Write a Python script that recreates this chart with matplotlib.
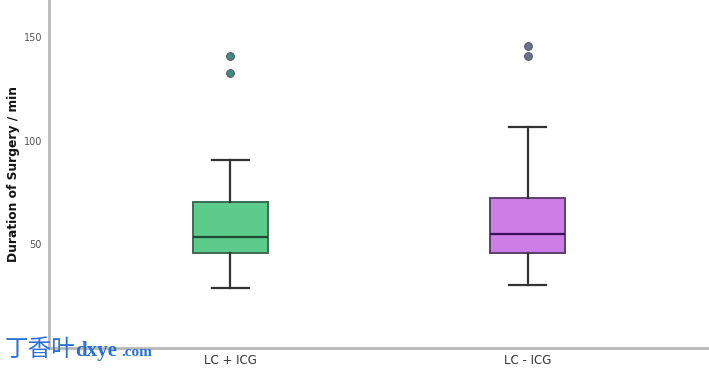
import matplotlib
matplotlib.use("Agg")
import matplotlib.pyplot as plt

categories = ["LC + ICG", "LC - ICG"]
q1 = [45.7, 45.7]
median = [53.8, 54.8]
q3 = [70.5, 72.4]
whisker_low = [28.8, 30.4]
whisker_high = [90.9, 106.7]
outliers = [[132.8, 141.0], [141.0, 146.0]]
yticks = [50, 100, 150]

box_colors = ["#5CCB8C", "#CD7EE6"]
edge_colors = ["#3E6A52", "#5E3F6C"]
median_colors = ["#1E4A30", "#3C0E55"]
flier_colors = ["#3E8E7E", "#6E7090"]

fig = plt.figure(figsize=(7.09, 3.68), dpi=100)
ax = fig.add_axes([49/709, 20/368, 1 - 49/709, 1 - 20/368])

positions = list(range(len(categories)))
for i in positions:
    stats = [dict(med=median[i], q1=q1[i], q3=q3[i], whislo=whisker_low[i],
                  whishi=whisker_high[i], fliers=outliers[i], label=categories[i])]
    ax.bxp(stats, positions=[i], widths=0.25, patch_artist=True, showfliers=True,
           boxprops=dict(facecolor=box_colors[i], edgecolor=edge_colors[i], linewidth=1.4),
           medianprops=dict(color=median_colors[i], linewidth=1.6),
           whiskerprops=dict(color="#333333", linewidth=1.6),
           capprops=dict(color="#333333", linewidth=1.6),
           capwidths=0.125,
           flierprops=dict(marker="o", markersize=5.5, markerfacecolor=flier_colors[i],
                           markeredgecolor="#555566", markeredgewidth=0.8))

ax.set_xlim(-0.61, 1.61)
ax.set_ylim(0, 168)
ax.set_xticks(positions)
ax.set_xticklabels(categories, fontsize=8.5, color="#333333")
ax.set_yticks(yticks)
ax.set_yticklabels([str(t) for t in yticks], fontsize=7, color="#555555")
ax.tick_params(axis="both", length=0)
ax.tick_params(axis="y", pad=5)
ax.tick_params(axis="x", pad=4)
ax.set_ylabel("Duration of Surgery / min", fontsize=8.8, fontweight="bold", color="#111111")
ax.yaxis.set_label_coords(-29/660, 0.5)
for s in ["top", "right"]:
    ax.spines[s].set_visible(False)
for s in ["left", "bottom"]:
    ax.spines[s].set_color("#b8b8b8")
    ax.spines[s].set_linewidth(2)

fig.text(5/709, 1 - 350/368, "丁香叶", family=["Noto Sans CJK SC", "DejaVu Sans"],
         fontsize=17, color="#2a6fd6", fontweight="light", va="center", ha="left")
fig.text(75/709, 1 - 351/368, "dxye", family=["Liberation Serif"], fontsize=15,
         color="#2a6fd6", fontweight="bold", va="center", ha="left")
fig.text(121/709, 1 - 352/368, ".com", family=["Liberation Serif"], fontsize=11,
         color="#2a6fd6", fontweight="bold", va="center", ha="left")

fig.savefig("out.png", dpi=100)
